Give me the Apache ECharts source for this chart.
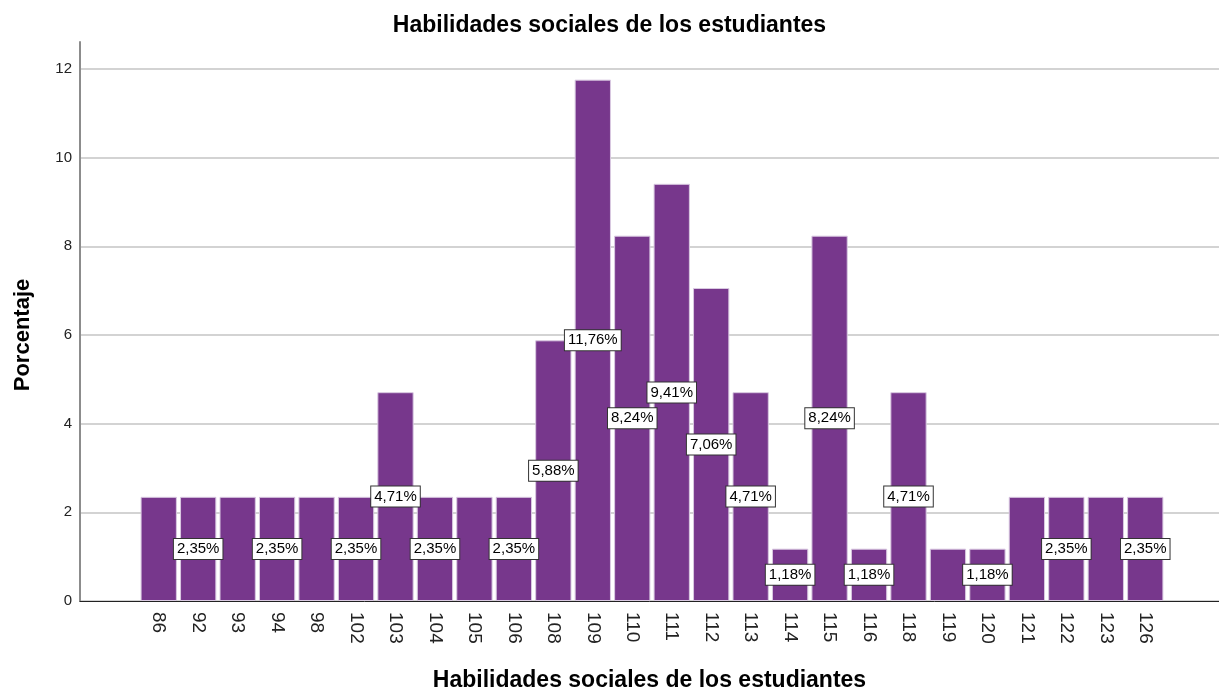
<!DOCTYPE html>
<html>
<head>
<meta charset="utf-8">
<script src="https://cdn.jsdelivr.net/npm/echarts@6/dist/echarts.min.js"></script>
<style>
  html, body { margin: 0; padding: 0; background: #fff; }
  #chart { width: 1219px; height: 690px; }
</style>
</head>
<body>
<div id="chart"></div>
<script>
const categories = ['86', '92', '93', '94', '98', '102', '103', '104', '105', '106', '108', '109', '110',
  '111', '112', '113', '114', '115', '116', '118', '119', '120', '121', '122', '123', '126'];
const percentages = [2.35, 2.35, 2.35, 2.35, 2.35, 2.35, 4.71, 2.35, 2.35, 2.35, 5.88, 11.76, 8.24,
  9.41, 7.06, 4.71, 1.18, 8.24, 1.18, 4.71, 1.18, 1.18, 2.35, 2.35, 2.35, 2.35];
// labels SPSS left out because they overlapped
const labelShown = [false, true, false, true, false, true, true, true, false, true, true, true, true,
  true, true, true, true, true, true, true, false, true, false, true, false, true];
const yTicks = [0, 2, 4, 6, 8, 10, 12];

const chart = echarts.init(document.getElementById('chart'));
const font = 'Liberation Sans, Arial, sans-serif';

const barData = percentages.map((v, i) => ({
  value: v,
  label: { show: labelShown[i] }
}));

const option = {
  animation: false,
  title: {
    text: 'Habilidades sociales de los estudiantes',
    left: 'center',
    top: 9,
    textStyle: { fontFamily: font, fontSize: 23, fontWeight: 'bold', color: '#000' }
  },
  grid: [
    { left: 80, right: 0, top: 42, bottom: 89, outerBoundsMode: 'none' },
    { left: 80, right: 0, top: 69, bottom: 89, outerBoundsMode: 'none' },
    { left: 139, right: 54, top: 69, bottom: 89, outerBoundsMode: 'none' }
  ],
  xAxis: [
    { gridIndex: 0, type: 'value', show: false },
    {
      gridIndex: 1, type: 'value',
      axisLine: { show: true, lineStyle: { color: '#222', width: 1 } },
      axisTick: { show: false }, axisLabel: { show: false }, splitLine: { show: false },
      name: 'Habilidades sociales de los estudiantes',
      nameLocation: 'middle', nameGap: 68,
      nameTextStyle: { fontFamily: font, fontSize: 23, fontWeight: 'bold', color: '#000' }
    },
    {
      gridIndex: 2, type: 'category', data: categories,
      axisLine: { show: false }, axisTick: { show: false },
      axisLabel: { rotate: -90, margin: 11, fontFamily: font, fontSize: 19, color: '#222' }
    }
  ],
  yAxis: [
    {
      gridIndex: 0, type: 'value', min: 0, max: 12.6,
      axisLine: { show: true, lineStyle: { color: '#8c8c8c', width: 2 } },
      axisTick: { show: false }, axisLabel: { show: false }, splitLine: { show: false }
    },
    {
      gridIndex: 1, type: 'value', min: yTicks[0], max: yTicks[yTicks.length - 1], interval: 2,
      axisLine: { show: false },
      axisTick: { show: false },
      axisLabel: { margin: 8, fontFamily: font, fontSize: 15, color: '#222' },
      splitLine: { lineStyle: { color: '#c4c4c4', width: 1.5 } },
      name: 'Porcentaje', nameLocation: 'middle', nameGap: 46,
      nameTextStyle: { fontFamily: font, fontSize: 22, fontWeight: 'bold', color: '#000' }
    },
    {
      gridIndex: 2, type: 'value', min: yTicks[0], max: yTicks[yTicks.length - 1], show: false
    }
  ],
  series: [{
    type: 'bar',
    xAxisIndex: 2,
    yAxisIndex: 2,
    data: barData,
    barCategoryGap: '8%',
    itemStyle: { color: '#77378c', borderColor: '#d9c9e1', borderWidth: 1 },
    label: {
      position: 'inside',
      formatter: p => p.value.toFixed(2).replace('.', ',') + '%',
      fontFamily: font,
      fontSize: 15,
      color: '#000',
      backgroundColor: '#fff',
      borderColor: '#333',
      borderWidth: 1,
      padding: [3, 3, 2, 3]
    }
  }]
};

chart.setOption(option);
</script>
</body>
</html>
